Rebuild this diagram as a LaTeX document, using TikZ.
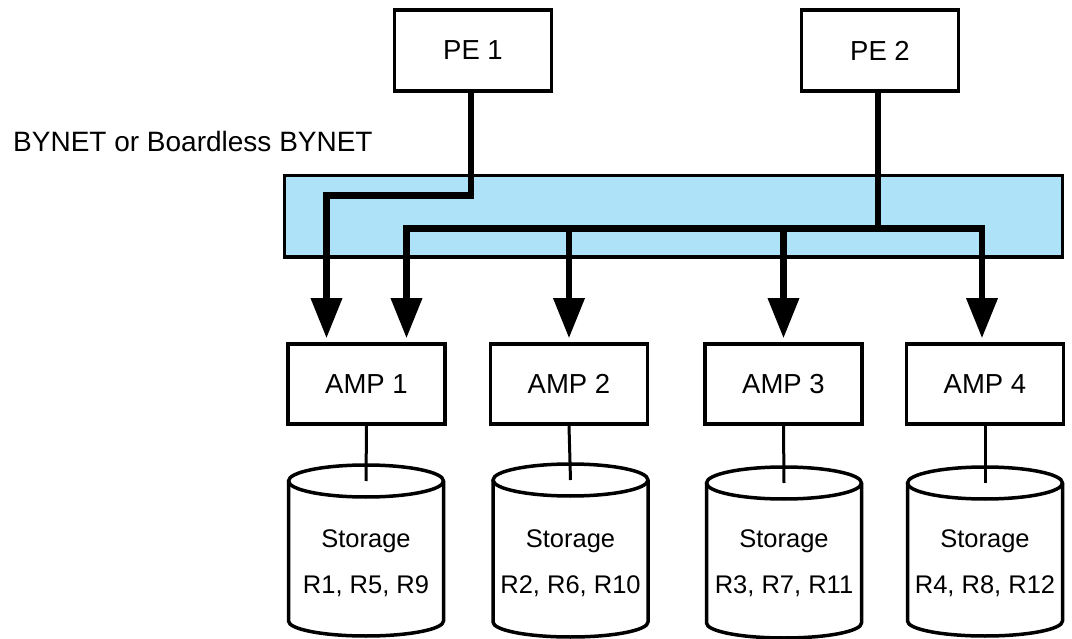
\documentclass[tikz,border=0pt]{standalone}
\usepackage{fontspec}
\setmainfont{Liberation Sans}
\usetikzlibrary{arrows.meta,calc}
\definecolor{bandblue}{RGB}{174,226,248}
\begin{document}
\begin{tikzpicture}[x=1pt,y=-1pt,
  box/.style={draw,line width=3.5pt,fill=white,minimum width=157pt,minimum height=81pt,inner sep=0pt,font=\fontsize{27.5}{30}\selectfont},
  bus/.style={line width=6.5pt,line join=miter,line cap=butt},
  arr/.style={bus,-{Triangle[length=40pt,width=30pt]},shorten >=4pt},
  cyl/.style={line width=3.5pt,line join=round},
  link/.style={line width=3pt},
  stxt/.style={align=center,inner sep=0pt,font=\fontsize{25.5}{46}\selectfont}]
\useasboundingbox (0,0) rectangle (1072,639);
% band
\draw[line width=3.5pt,fill=bandblue] (284.5,175.5) rectangle (1062.5,257);
\node[anchor=base west,inner sep=0pt,font=\fontsize{28}{30}\selectfont] (lbl) at (13,152) {BYNET or Boardless BYNET};
% PE boxes
\node[box] (pe1) at (473,50.5) {PE 1};
\node[box] (pe2) at (880,50.5) {PE 2};
% AMP boxes
\node[box,minimum height=80pt] (amp1) at (366.5,384) {AMP 1};
\node[box,minimum height=80pt] (amp2) at (569,384) {AMP 2};
\node[box,minimum height=80pt] (amp3) at (783.5,384) {AMP 3};
\node[box,minimum height=80pt] (amp4) at (985,384) {AMP 4};
% PE1 connector
\draw[arr] ([xshift=-2]pe1.south) -- ++(0,103) -| ([xshift=-40]amp1.north);
% PE2 connectors
\draw[bus] ([xshift=-2]pe2.south) -- ++(0,136) coordinate (j);
\draw[arr] (j) -| ([xshift=40]amp1.north);
\draw[arr] (j) -| ([xshift=-3]amp4.north);
\draw[arr] (amp2.north |- j) -- (amp2.north);
\draw[arr] (amp3.north |- j) -- (amp3.north);
% storage cylinders
\foreach \i/\cx/\ty/\by/\txt in {1/366/481/621/{R1, R5, R9},2/570.5/480/622/{R2, R6, R10},3/784/483/623/{R3, R7, R11},4/985/483/621/{R4, R8, R12}}{
  \draw[cyl] (\cx-77.5,\ty) -- (\cx-77.5,\by) arc[start angle=180,end angle=360,x radius=77.5pt,y radius=15pt] -- (\cx+77.5,\ty);
  \draw[cyl] (\cx,\ty) ellipse [x radius=77.5pt,y radius=16pt];
  \coordinate (top\i) at (\cx,\ty);
  \node[stxt] (st\i) at (\cx,563) {Storage\\\txt};
}
\draw[link] (amp1.south) -- (top1);
\draw[link] (amp2.south) -- (top2);
\draw[link] (amp3.south) -- (top3);
\draw[link] (amp4.south) -- (top4);
\end{tikzpicture}
\end{document}
